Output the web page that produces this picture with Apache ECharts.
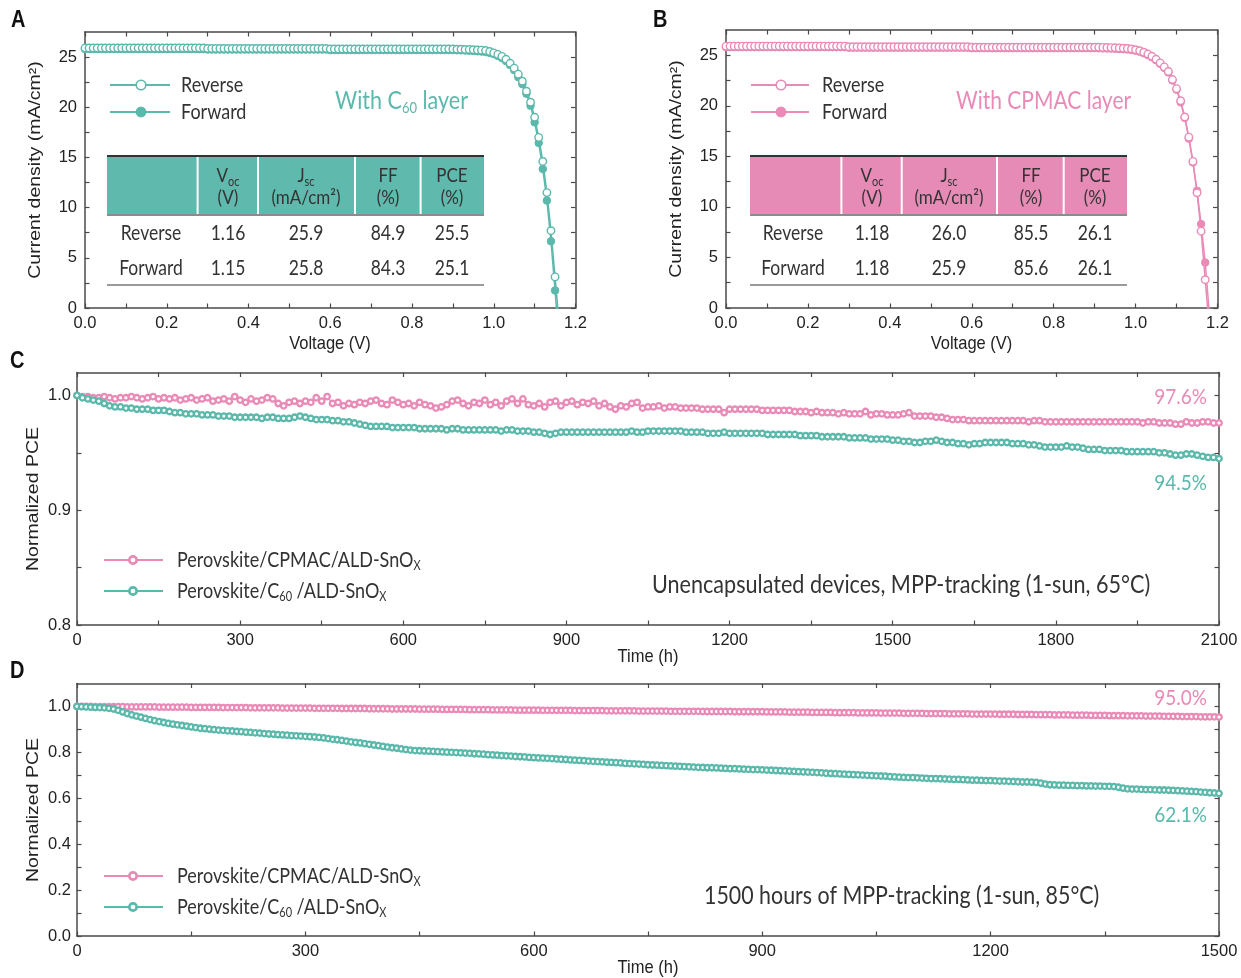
<!DOCTYPE html>
<html><head><meta charset="utf-8">
<script src="https://cdn.jsdelivr.net/npm/echarts@6/dist/echarts.min.js"></script>
<style>html,body{margin:0;padding:0;background:#fff}#c{width:1241px;height:978px}</style>
</head><body><div id="c"></div>
<script>
// ---------------- DATA ----------------
const vA = [0,0.01,0.02,0.03,0.04,0.05,0.06,0.07,0.08,0.09,0.1,0.11,0.12,0.13,0.14,0.15,0.16,0.17,0.18,0.19,0.2,0.21,0.22,0.23,0.24,0.25,0.26,0.27,0.28,0.29,0.3,0.31,0.32,0.33,0.34,0.35,0.36,0.37,0.38,0.39,0.4,0.41,0.42,0.43,0.44,0.45,0.46,0.47,0.48,0.49,0.5,0.51,0.52,0.53,0.54,0.55,0.56,0.57,0.58,0.59,0.6,0.61,0.62,0.63,0.64,0.65,0.66,0.67,0.68,0.69,0.7,0.71,0.72,0.73,0.74,0.75,0.76,0.77,0.78,0.79,0.8,0.81,0.82,0.83,0.84,0.85,0.86,0.87,0.88,0.89,0.9,0.91,0.92,0.93,0.94,0.95,0.96,0.97,0.98,0.99,1,1.01,1.02,1.03,1.04,1.05,1.06,1.07,1.08,1.09,1.1,1.11,1.12,1.13,1.14,1.15,1.16];
const jA_rev = [25.9,25.9,25.9,25.9,25.9,25.9,25.9,25.9,25.9,25.9,25.9,25.9,25.9,25.9,25.9,25.9,25.9,25.9,25.9,25.9,25.9,25.9,25.9,25.9,25.9,25.9,25.9,25.9,25.9,25.9,
25.85,25.85,25.85,25.85,25.85,25.85,25.85,25.85,25.85,25.85,25.85,25.85,25.85,25.85,25.85,25.85,25.85,25.85,25.85,25.85,25.85,25.85,25.85,25.85,25.85,25.85,25.85,25.85,25.85,25.85,
25.8,25.8,25.8,25.8,25.8,25.8,25.8,25.8,25.8,25.8,25.8,25.8,25.8,25.8,25.8,25.8,25.8,25.8,25.8,25.8,25.8,25.8,25.8,25.8,25.8,25.8,25.8,25.8,25.8,25.8,
25.8,25.78,25.78,25.76,25.75,25.73,25.71,25.69,
25.65,25.55,25.42,25.27,25.07,24.78,24.38,23.9,23.3,22.6,21.6,20.5,19.0,17.0,14.6,11.5,7.7,3.1,-1.6];
const jA_fwd = [25.8,25.8,25.8,25.8,25.8,25.8,25.8,25.8,25.8,25.8,25.8,25.8,25.8,25.8,25.8,25.8,25.8,25.8,25.8,25.8,25.8,25.8,25.8,25.8,25.8,25.8,25.8,25.8,25.8,25.8,
25.75,25.75,25.75,25.75,25.75,25.75,25.75,25.75,25.75,25.75,25.75,25.75,25.75,25.75,25.75,25.75,25.75,25.75,25.75,25.75,25.75,25.75,25.75,25.75,25.75,25.75,25.75,25.75,25.75,25.75,
25.7,25.7,25.7,25.7,25.7,25.7,25.7,25.7,25.7,25.7,25.7,25.7,25.7,25.7,25.7,25.7,25.7,25.7,25.7,25.7,25.7,25.7,25.7,25.7,25.7,25.7,25.7,25.7,25.7,25.7,
25.7,25.68,25.67,25.65,25.63,25.61,25.58,25.55,
25.5,25.42,25.3,25.12,24.9,24.6,24.2,23.7,23.0,22.3,21.35,20.15,18.5,16.45,13.85,10.7,6.65,1.75,-3.5];
const vB = [0,0.01,0.02,0.03,0.04,0.05,0.06,0.07,0.08,0.09,0.1,0.11,0.12,0.13,0.14,0.15,0.16,0.17,0.18,0.19,0.2,0.21,0.22,0.23,0.24,0.25,0.26,0.27,0.28,0.29,0.3,0.31,0.32,0.33,0.34,0.35,0.36,0.37,0.38,0.39,0.4,0.41,0.42,0.43,0.44,0.45,0.46,0.47,0.48,0.49,0.5,0.51,0.52,0.53,0.54,0.55,0.56,0.57,0.58,0.59,0.6,0.61,0.62,0.63,0.64,0.65,0.66,0.67,0.68,0.69,0.7,0.71,0.72,0.73,0.74,0.75,0.76,0.77,0.78,0.79,0.8,0.81,0.82,0.83,0.84,0.85,0.86,0.87,0.88,0.89,0.9,0.91,0.92,0.93,0.94,0.95,0.96,0.97,0.98,0.99,1,1.01,1.02,1.03,1.04,1.05,1.06,1.07,1.08,1.09,1.1,1.11,1.12,1.13,1.14,1.15,1.16,1.17,1.18];
const jB_rev = [25.9,25.9,25.9,25.9,25.9,25.9,25.9,25.9,25.9,25.9,25.9,25.9,25.9,25.9,25.9,25.9,25.9,25.9,25.9,25.9,25.9,25.9,25.9,25.9,25.9,25.9,25.9,25.9,25.9,25.9,
25.85,25.85,25.85,25.85,25.85,25.85,25.85,25.85,25.85,25.85,25.85,25.85,25.85,25.85,25.85,25.85,25.85,25.85,25.85,25.85,25.85,25.85,25.85,25.85,25.85,25.85,25.85,25.85,25.85,25.85,
25.8,25.8,25.8,25.8,25.8,25.8,25.8,25.8,25.8,25.8,25.8,25.8,25.8,25.8,25.8,25.8,25.8,25.8,25.8,25.8,25.8,25.8,25.8,25.8,25.8,25.8,25.8,25.8,25.8,25.8,
25.8,25.79,25.78,25.77,25.76,25.74,25.72,25.7,
25.67,25.62,25.55,25.45,25.3,25.12,24.9,24.6,24.25,23.85,23.4,22.6,21.7,20.5,18.9,16.9,14.5,11.4,7.6,2.8,-2.0];
const jB_fwd = [25.8,25.8,25.8,25.8,25.8,25.8,25.8,25.8,25.8,25.8,25.8,25.8,25.8,25.8,25.8,25.8,25.8,25.8,25.8,25.8,25.8,25.8,25.8,25.8,25.8,25.8,25.8,25.8,25.8,25.8,
25.75,25.75,25.75,25.75,25.75,25.75,25.75,25.75,25.75,25.75,25.75,25.75,25.75,25.75,25.75,25.75,25.75,25.75,25.75,25.75,25.75,25.75,25.75,25.75,25.75,25.75,25.75,25.75,25.75,25.75,
25.7,25.7,25.7,25.7,25.7,25.7,25.7,25.7,25.7,25.7,25.7,25.7,25.7,25.7,25.7,25.7,25.7,25.7,25.7,25.7,25.7,25.7,25.7,25.7,25.7,25.7,25.7,25.7,25.7,25.7,
25.7,25.69,25.68,25.67,25.66,25.64,25.62,25.6,
25.57,25.52,25.45,25.35,25.2,25.02,24.8,24.5,24.15,23.75,23.3,22.5,21.6,20.35,18.8,16.75,14.4,11.6,8.3,4.5,-0.5];

const tC = [0,10,20,30,40,50,60,70,80,90,100,110,120,130,140,150,160,170,180,190,200,210,220,230,240,250,260,270,280,290,300,310,320,330,340,350,360,370,380,390,400,410,420,430,440,450,460,470,480,490,500,510,520,530,540,550,560,570,580,590,600,610,620,630,640,650,660,670,680,690,700,710,720,730,740,750,760,770,780,790,800,810,820,830,840,850,860,870,880,890,900,910,920,930,940,950,960,970,980,990,1000,1010,1020,1030,1040,1050,1060,1070,1080,1090,1100,1110,1120,1130,1140,1150,1160,1170,1180,1190,1200,1210,1220,1230,1240,1250,1260,1270,1280,1290,1300,1310,1320,1330,1340,1350,1360,1370,1380,1390,1400,1410,1420,1430,1440,1450,1460,1470,1480,1490,1500,1510,1520,1530,1540,1550,1560,1570,1580,1590,1600,1610,1620,1630,1640,1650,1660,1670,1680,1690,1700,1710,1720,1730,1740,1750,1760,1770,1780,1790,1800,1810,1820,1830,1840,1850,1860,1870,1880,1890,1900,1910,1920,1930,1940,1950,1960,1970,1980,1990,2000,2010,2020,2030,2040,2050,2060,2070,2080,2090,2100];
const pinkC = [1.000,0.999,0.999,0.998,0.998,0.999,0.998,0.997,0.998,0.998,
0.999,0.998,0.997,0.998,0.999,0.997,0.998,0.997,0.998,0.996,
0.997,0.998,0.996,0.997,0.998,0.995,0.996,0.997,0.995,0.999,
0.996,0.994,0.997,0.995,0.996,0.998,0.997,0.993,0.991,0.994,
0.995,0.993,0.995,0.994,0.998,0.995,0.999,0.993,0.994,0.991,
0.993,0.992,0.994,0.993,0.995,0.996,0.993,0.992,0.996,0.994,
0.992,0.993,0.991,0.994,0.992,0.991,0.989,0.990,0.992,0.995,
0.996,0.993,0.991,0.994,0.993,0.996,0.992,0.994,0.991,0.995,
0.997,0.993,0.997,0.992,0.991,0.993,0.990,0.994,0.995,0.991,
0.994,0.995,0.992,0.994,0.993,0.995,0.991,0.993,0.990,0.988,
0.991,0.990,0.993,0.994,0.989,0.990,0.990,0.991,0.989,0.990,
0.990,0.989,0.989,0.989,0.989,0.988,0.988,0.988,0.988,0.985,
0.988,0.988,0.988,0.988,0.988,0.988,0.987,0.987,0.987,0.987,
0.987,0.987,0.986,0.986,0.986,0.985,0.986,0.985,0.985,0.985,
0.984,0.985,0.984,0.984,0.984,0.986,0.983,0.984,0.984,0.983,
0.983,0.983,0.984,0.985,0.982,0.982,0.982,0.982,0.981,0.981,
0.980,0.979,0.979,0.979,0.978,0.978,0.978,0.978,0.978,0.978,
0.978,0.978,0.978,0.978,0.978,0.977,0.978,0.978,0.977,0.977,
0.977,0.977,0.977,0.977,0.977,0.977,0.977,0.977,0.977,0.977,
0.977,0.977,0.977,0.977,0.977,0.977,0.976,0.977,0.977,0.976,
0.976,0.976,0.975,0.975,0.977,0.976,0.976,0.977,0.977,0.976,
0.976];
const tealC = [1.000,0.998,0.997,0.996,0.995,0.993,0.991,0.990,0.990,0.989,
0.989,0.988,0.988,0.988,0.987,0.987,0.987,0.986,0.985,0.985,
0.984,0.984,0.984,0.983,0.983,0.983,0.982,0.982,0.982,0.981,
0.981,0.981,0.981,0.981,0.980,0.981,0.981,0.980,0.980,0.980,
0.981,0.982,0.981,0.980,0.979,0.979,0.979,0.978,0.978,0.977,
0.977,0.976,0.975,0.974,0.973,0.973,0.973,0.973,0.972,0.972,
0.972,0.972,0.972,0.971,0.971,0.971,0.971,0.971,0.970,0.971,
0.971,0.970,0.970,0.970,0.970,0.970,0.970,0.970,0.969,0.970,
0.970,0.969,0.969,0.969,0.968,0.968,0.967,0.966,0.967,0.968,
0.968,0.968,0.968,0.968,0.968,0.968,0.968,0.968,0.968,0.968,
0.968,0.968,0.969,0.968,0.968,0.969,0.969,0.969,0.969,0.969,
0.969,0.969,0.968,0.968,0.968,0.968,0.967,0.967,0.967,0.968,
0.967,0.967,0.967,0.967,0.967,0.967,0.967,0.966,0.966,0.966,
0.966,0.966,0.966,0.965,0.965,0.965,0.965,0.964,0.964,0.964,
0.964,0.964,0.963,0.963,0.963,0.963,0.962,0.962,0.962,0.962,
0.961,0.961,0.960,0.960,0.959,0.959,0.960,0.960,0.961,0.960,
0.959,0.959,0.958,0.958,0.957,0.958,0.958,0.959,0.959,0.959,
0.959,0.959,0.958,0.958,0.958,0.957,0.957,0.956,0.955,0.955,
0.955,0.955,0.956,0.955,0.955,0.954,0.953,0.953,0.953,0.952,
0.952,0.952,0.952,0.951,0.951,0.951,0.951,0.951,0.951,0.950,
0.950,0.949,0.948,0.948,0.949,0.949,0.948,0.947,0.946,0.946,
0.945];

const tD = [0,6,12,18,24,30,36,42,48,54,60,66,72,78,84,90,96,102,108,114,120,126,132,138,144,150,156,162,168,174,180,186,192,198,204,210,216,222,228,234,240,246,252,258,264,270,276,282,288,294,
300,306,312,318,324,330,336,342,348,354,360,366,372,378,384,390,396,402,408,414,420,426,432,438,444,450,456,462,468,474,480,486,492,498,504,510,516,522,528,534,540,546,552,558,564,570,576,582,588,594,
600,606,612,618,624,630,636,642,648,654,660,666,672,678,684,690,696,702,708,714,720,726,732,738,744,750,756,762,768,774,780,786,792,798,804,810,816,822,828,834,840,846,852,858,864,870,876,882,888,894,
900,906,912,918,924,930,936,942,948,954,960,966,972,978,984,990,996,1002,1008,1014,1020,1026,1032,1038,1044,1050,1056,1062,1068,1074,1080,1086,1092,1098,1104,1110,1116,1122,1128,1134,1140,1146,1152,1158,1164,1170,1176,1182,1188,1194,
1200,1206,1212,1218,1224,1230,1236,1242,1248,1254,1260,1266,1272,1278,1284,1290,1296,1302,1308,1314,1320,1326,1332,1338,1344,1350,1356,1362,1368,1374,1380,1386,1392,1398,1404,1410,1416,1422,1428,1434,1440,1446,1452,1458,1464,1470,1476,1482,1488,1494,
1500];
const pinkD = [1.000,1.000,1.000,1.000,0.999,0.999,0.999,0.999,0.999,0.999,0.999,0.998,0.998,0.998,0.998,0.998,0.998,0.998,0.997,0.997,0.997,0.997,0.997,0.997,0.997,0.996,0.996,0.996,0.996,0.996,0.996,0.996,0.995,0.995,0.995,0.995,0.995,0.995,0.994,0.994,0.994,0.994,0.994,0.994,0.994,0.993,0.993,0.993,0.993,0.993,
0.993,0.993,0.992,0.992,0.992,0.992,0.992,0.992,0.991,0.991,0.991,0.991,0.991,0.991,0.990,0.990,0.990,0.990,0.990,0.989,0.989,0.989,0.989,0.989,0.989,0.988,0.988,0.988,0.988,0.988,0.987,0.987,0.987,0.987,0.987,0.987,0.986,0.986,0.986,0.986,0.986,0.985,0.985,0.985,0.985,0.985,0.984,0.984,0.984,0.984,
0.984,0.984,0.983,0.983,0.983,0.983,0.983,0.983,0.983,0.982,0.982,0.982,0.982,0.982,0.982,0.982,0.981,0.981,0.981,0.981,0.981,0.981,0.981,0.980,0.980,0.980,0.980,0.980,0.980,0.980,0.979,0.979,0.979,0.979,0.979,0.979,0.979,0.978,0.978,0.978,0.978,0.978,0.978,0.978,0.977,0.977,0.977,0.977,0.977,0.977,
0.977,0.976,0.976,0.976,0.976,0.976,0.975,0.975,0.975,0.975,0.975,0.974,0.974,0.974,0.974,0.974,0.973,0.973,0.973,0.973,0.973,0.972,0.972,0.972,0.972,0.972,0.971,0.971,0.971,0.971,0.971,0.970,0.970,0.970,0.970,0.970,0.969,0.969,0.969,0.969,0.969,0.968,0.968,0.968,0.968,0.968,0.967,0.967,0.967,0.967,
0.967,0.967,0.966,0.966,0.966,0.966,0.965,0.965,0.965,0.965,0.964,0.964,0.964,0.964,0.963,0.963,0.963,0.963,0.962,0.962,0.962,0.962,0.961,0.961,0.961,0.961,0.960,0.960,0.960,0.960,0.959,0.959,0.959,0.959,0.958,0.958,0.958,0.958,0.957,0.957,0.957,0.957,0.956,0.956,0.956,0.956,0.955,0.955,0.955,0.955,
0.954];
const tealD = [1.000,0.999,0.998,0.997,0.996,0.995,0.994,0.992,0.989,0.983,0.976,0.969,0.963,0.958,0.953,0.948,0.943,0.938,0.934,0.930,0.926,0.923,0.920,0.917,0.914,0.911,0.908,0.905,0.903,0.901,0.899,0.897,0.896,0.894,0.893,0.891,0.890,0.888,0.887,0.885,0.884,0.882,0.880,0.879,0.877,0.876,0.875,0.873,0.872,0.871,
0.870,0.868,0.867,0.865,0.863,0.860,0.857,0.855,0.852,0.849,0.846,0.843,0.841,0.838,0.835,0.832,0.829,0.826,0.823,0.820,0.818,0.815,0.812,0.810,0.808,0.807,0.806,0.805,0.804,0.803,0.802,0.801,0.800,0.799,0.798,0.797,0.796,0.794,0.793,0.792,0.790,0.789,0.788,0.786,0.785,0.784,0.782,0.781,0.780,0.778,
0.777,0.776,0.775,0.774,0.773,0.771,0.770,0.769,0.767,0.766,0.765,0.764,0.762,0.761,0.760,0.759,0.757,0.756,0.755,0.754,0.752,0.751,0.750,0.749,0.748,0.746,0.745,0.744,0.743,0.742,0.741,0.740,0.739,0.738,0.737,0.736,0.735,0.734,0.733,0.733,0.732,0.731,0.730,0.729,0.729,0.728,0.727,0.726,0.725,0.725,
0.724,0.723,0.722,0.721,0.720,0.719,0.718,0.717,0.716,0.715,0.714,0.713,0.712,0.711,0.709,0.708,0.707,0.706,0.705,0.704,0.703,0.702,0.701,0.700,0.699,0.698,0.697,0.696,0.694,0.693,0.692,0.691,0.690,0.690,0.689,0.688,0.687,0.686,0.686,0.685,0.684,0.683,0.682,0.682,0.681,0.680,0.679,0.679,0.678,0.677,
0.677,0.676,0.675,0.675,0.674,0.673,0.672,0.671,0.671,0.670,0.669,0.666,0.662,0.659,0.658,0.657,0.657,0.656,0.656,0.655,0.655,0.654,0.654,0.653,0.653,0.652,0.652,0.651,0.648,0.644,0.641,0.640,0.640,0.639,0.638,0.638,0.637,0.636,0.636,0.635,0.634,0.633,0.632,0.631,0.630,0.629,0.627,0.626,0.624,0.623,
0.621];

// tick / label values
const xTicksJV = [0,0.1,0.2,0.3,0.4,0.5,0.6,0.7,0.8,0.9,1.0,1.1,1.2];
const xLabelsJV = [0,0.2,0.4,0.6,0.8,1.0,1.2];
const yTicksJV = [0,2.5,5,7.5,10,12.5,15,17.5,20,22.5,25];
const yLabelsJV = [0,5,10,15,20,25];
const xTicksC = [0,150,300,450,600,750,900,1050,1200,1350,1500,1650,1800,1950,2100];
const xLabelsC = [0,300,600,900,1200,1500,1800,2100];
const yTicksC = [0.8,0.85,0.9,0.95,1.0];
const yLabelsC = [0.8,0.9,1.0];
const xTicksD = [0,150,300,450,600,750,900,1050,1200,1350,1500];
const xLabelsD = [0,300,600,900,1200,1500];
const yTicksD = [0,0.1,0.2,0.3,0.4,0.5,0.6,0.7,0.8,0.9,1.0];
const yLabelsD = [0,0.2,0.4,0.6,0.8,1.0];

const tableHeader = [['V','oc','(V)'],['J','sc','(mA/cm²)'],['FF','','(%)'],['PCE','','(%)']];
const rowsA = [['Reverse','1.16','25.9','84.9','25.5'],['Forward','1.15','25.8','84.3','25.1']];
const rowsB = [['Reverse','1.18','26.0','85.5','26.1'],['Forward','1.18','25.9','85.6','26.1']];

// ---------------- STYLE ----------------
const TEAL='#5bb9ab', PINK='#e98ab7', TEALH='#5fb9ad', PINKH='#e68bb6';
const AX='#4a4a4a', TXT='#333333';
const FA='"Liberation Sans", Arial, sans-serif';
const FT='Lato, "Open Sans", sans-serif';
const SY = 1.16; // vertical stretch of the reference lettering

function axes(g, o){
  const tick = {show:true,inside:true,length:4.5,lineStyle:{color:AX,width:1.2},customValues:o.ticks};
  const line = {show:true,onZero:false,lineStyle:{color:AX,width:1.5}};
  const main = {type:'value',gridIndex:g,position:o.p1,min:o.min,max:o.max,splitLine:{show:false},
    axisLine:line,axisTick:tick,
    axisLabel:{show:true,customValues:o.labels,formatter:o.fmt,fontFamily:FA,fontSize:16.5,color:'#222',margin:o.margin}};
  const mir = {type:'value',gridIndex:g,position:o.p2,min:o.min,max:o.max,splitLine:{show:false},
    axisLine:line,axisTick:tick,axisLabel:{show:false}};
  return [main,mir];
}
const f1 = v => v.toFixed(1);
const f0 = v => String(Math.round(v));

const xAxis = [].concat(
  axes(0,{p1:'bottom',p2:'top',min:0,max:1.2,ticks:xTicksJV,labels:xLabelsJV,fmt:f1,margin:7}),
  axes(1,{p1:'bottom',p2:'top',min:0,max:1.2,ticks:xTicksJV,labels:xLabelsJV,fmt:f1,margin:7}),
  axes(2,{p1:'bottom',p2:'top',min:0,max:2100,ticks:xTicksC,labels:xLabelsC,fmt:f0,margin:7}),
  axes(3,{p1:'bottom',p2:'top',min:0,max:1500,ticks:xTicksD,labels:xLabelsD,fmt:f0,margin:7})
);
const yAxis = [].concat(
  axes(0,{p1:'left',p2:'right',min:0,max:27.5,ticks:yTicksJV,labels:yLabelsJV,fmt:f0,margin:8}),
  axes(1,{p1:'left',p2:'right',min:0,max:27.5,ticks:yTicksJV,labels:yLabelsJV,fmt:f0,margin:8}),
  axes(2,{p1:'left',p2:'right',min:0.8,max:1.02,ticks:yTicksC,labels:yLabelsC,fmt:f1,margin:6}),
  axes(3,{p1:'left',p2:'right',min:0,max:1.1,ticks:yTicksD,labels:yLabelsD,fmt:f1,margin:6})
);

const zip = (a,b) => a.map((x,i)=>[x,b[i]]);
function S(ax, data, color, open, size, bw, lw){
  return {type:'line',xAxisIndex:ax,yAxisIndex:ax,data,symbol:'circle',symbolSize:size,showSymbol:true,
    clip:true,animation:false,emphasis:{disabled:true},silent:true,
    lineStyle:{color,width:lw},
    itemStyle:{color: open ? '#fff' : color, borderColor:color, borderWidth:bw}};
}
const series = [
  S(0, zip(vA,jA_fwd), TEAL, false, 7.5, 1, 1.5),
  S(0, zip(vA,jA_rev), TEAL, true, 7.5, 1.4, 1.5),
  S(2, zip(vB,jB_fwd), PINK, false, 7.5, 1, 1.5),
  S(2, zip(vB,jB_rev), PINK, true, 7.5, 1.4, 1.5),
  S(4, zip(tC,pinkC), PINK, true, 5.5, 2.3, 1.5),
  S(4, zip(tC,tealC), TEAL, true, 5.5, 2.3, 1.5),
  S(6, zip(tD,pinkD), PINK, true, 5.5, 2.3, 1.5),
  S(6, zip(tD,tealD), TEAL, true, 5.5, 2.3, 1.5)
];

// ---------------- GRAPHICS ----------------
const G = [];
function T(x,y,text,o){ o=o||{};
  G.push({type:'text',x,y,silent:true,z:100,rotation:o.rot||0,scaleX:o.sx||1,scaleY:o.sy||SY,
    style:{text,fontFamily:o.ff||FT,fontSize:o.fs||18,fill:o.c||TXT,
    fontWeight:o.fw||'normal',align:o.al||'left',verticalAlign:'middle',rich:o.rich}});
}
function L(x1,y1,x2,y2,c,w){ G.push({type:'line',silent:true,z:100,shape:{x1,y1,x2,y2},style:{stroke:c,lineWidth:w}}); }
function Cc(cx,cy,r,fill,stroke,w){ G.push({type:'circle',silent:true,z:101,shape:{cx,cy,r},style:{fill,stroke,lineWidth:w}}); }
function R(x,y,w,h,fill){ G.push({type:'rect',silent:true,z:99,shape:{x,y,width:w,height:h},style:{fill}}); }
const rich = (fs,c,ff) => ({t:{fontSize:fs,fill:c,fontFamily:ff||FT,lineHeight:fs+4},
                        s:{fontSize:Math.round(fs*0.62),fill:c,fontFamily:ff||FT,verticalAlign:'bottom',lineHeight:Math.round(fs*0.62)}});

// axis titles
T(330,344,'Voltage (V)',{ff:FA,fs:16.5,al:'center',c:'#222'});
T(971.5,344,'Voltage (V)',{ff:FA,fs:16.5,al:'center',c:'#222'});
T(648,657,'Time (h)',{ff:FA,fs:16.5,al:'center',c:'#222'});
T(648,968,'Time (h)',{ff:FA,fs:16.5,al:'center',c:'#222'});
T(35,170,'Current density (mA/cm²)',{ff:FA,fs:16.5,al:'center',c:'#222',rot:Math.PI/2,sx:1.18,sy:1});
T(676,169,'Current density (mA/cm²)',{ff:FA,fs:16.5,al:'center',c:'#222',rot:Math.PI/2,sx:1.18,sy:1});
T(33,499,'Normalized PCE',{ff:FA,fs:16.5,al:'center',c:'#222',rot:Math.PI/2,sx:1.18,sy:1});
T(33,810,'Normalized PCE',{ff:FA,fs:16.5,al:'center',c:'#222',rot:Math.PI/2,sx:1.18,sy:1});

// panel letters
T(11,21,'A',{ff:FA,fs:20,fw:'bold',c:'#111'});
T(653,21,'B',{ff:FA,fs:20,fw:'bold',c:'#111'});
T(10,362,'C',{ff:FA,fs:20,fw:'bold',c:'#111'});
T(10,672,'D',{ff:FA,fs:20,fw:'bold',c:'#111'});

// JV legends
function jvLegend(x0,x1,xm,xt,color){
  L(x0,85,x1,85,color,1.8); Cc(xm,85,4.8,'#fff',color,1.6); T(xt,85,'Reverse');
  L(x0,112,x1,112,color,1.8); Cc(xm,112,4.8,color,color,1.2); T(xt,112,'Forward');
}
jvLegend(110,170,141,181,TEAL);
jvLegend(751,809,781,822,PINK);
T(335,101,'{t|With C}{s|60}{t| layer}',{c:TEAL,fs:21.5,rich:rich(21.5,TEAL)});
T(956,101,'With CPMAC layer',{c:PINK,fs:21});

// tables
function table(x0,x1,divs,centers,rows,fill){
  R(x0,157,x1-x0,57,fill);
  L(x0,156,x1,156,'#333',2);
  L(x0,215,x1,215,'#8c8c8c',2);
  L(x0,285,x1,285,'#9a9a9a',2);
  divs.forEach(d=>L(d,157,d,214,'#ffffff',2));
  tableHeader.forEach((h,i)=>{
    const cx = centers[i+1];
    if(h[1]) T(cx,176,'{t|'+h[0]+'}{s|'+h[1]+'}',{al:'center',fs:17,rich:rich(17,TXT)});
    else T(cx,176,h[0],{al:'center',fs:17});
    T(cx,198,h[2],{al:'center',fs:17});
  });
  rows.forEach((r,ri)=>{
    const y = ri===0?233:268;
    r.forEach((v,ci)=>T(centers[ci],y,v,{al:'center',fs:17.5}));
  });
}
table(107,484,[197.6,258,355,420.6],[151,228,306,388,452],rowsA,TEALH);
table(750,1127,[841.4,901.7,997,1063.7],[793,872,949,1031,1095],rowsB,PINKH);

// C / D legends
function tLegend(y1,y2){
  L(104,y1,163,y1,PINK,1.8); Cc(133,y1,3.7,'#fff',PINK,2.7);
  T(177,y1,'{t|Perovskite/CPMAC/ALD-SnO}{s|X}',{fs:18,rich:rich(18,TXT)});
  L(104,y2,163,y2,TEAL,1.8); Cc(133,y2,3.7,'#fff',TEAL,2.7);
  T(177,y2,'{t|Perovskite/C}{s|60}{t| /ALD-SnO}{s|X}',{fs:18,rich:rich(18,TXT)});
}
tLegend(560,591);
tLegend(876,907);
T(652,585,'Unencapsulated devices, MPP-tracking (1-sun, 65°C)',{fs:21.6});
T(704,896,'1500 hours of MPP-tracking (1-sun, 85°C)',{fs:21.4});
T(1207,397,'97.6%',{al:'right',c:PINK,fs:19});
T(1207,483,'94.5%',{al:'right',c:TEAL,fs:19});
T(1207,698,'95.0%',{al:'right',c:PINK,fs:19});
T(1207,815,'62.1%',{al:'right',c:TEAL,fs:19});

const option = {
  animation:false,
  backgroundColor:'#fff',
  grid:[
    {left:85,top:32,width:490.5,height:276},
    {left:726,top:30,width:491.5,height:278},
    {left:77,top:372.5,width:1142,height:252.5},
    {left:77,top:683.5,width:1142,height:252.5}
  ],
  xAxis, yAxis, series,
  graphic:{elements:G}
};
const chart = echarts.init(document.getElementById('c'),null,{renderer:'canvas'});
chart.setOption(option);
</script></body></html>
